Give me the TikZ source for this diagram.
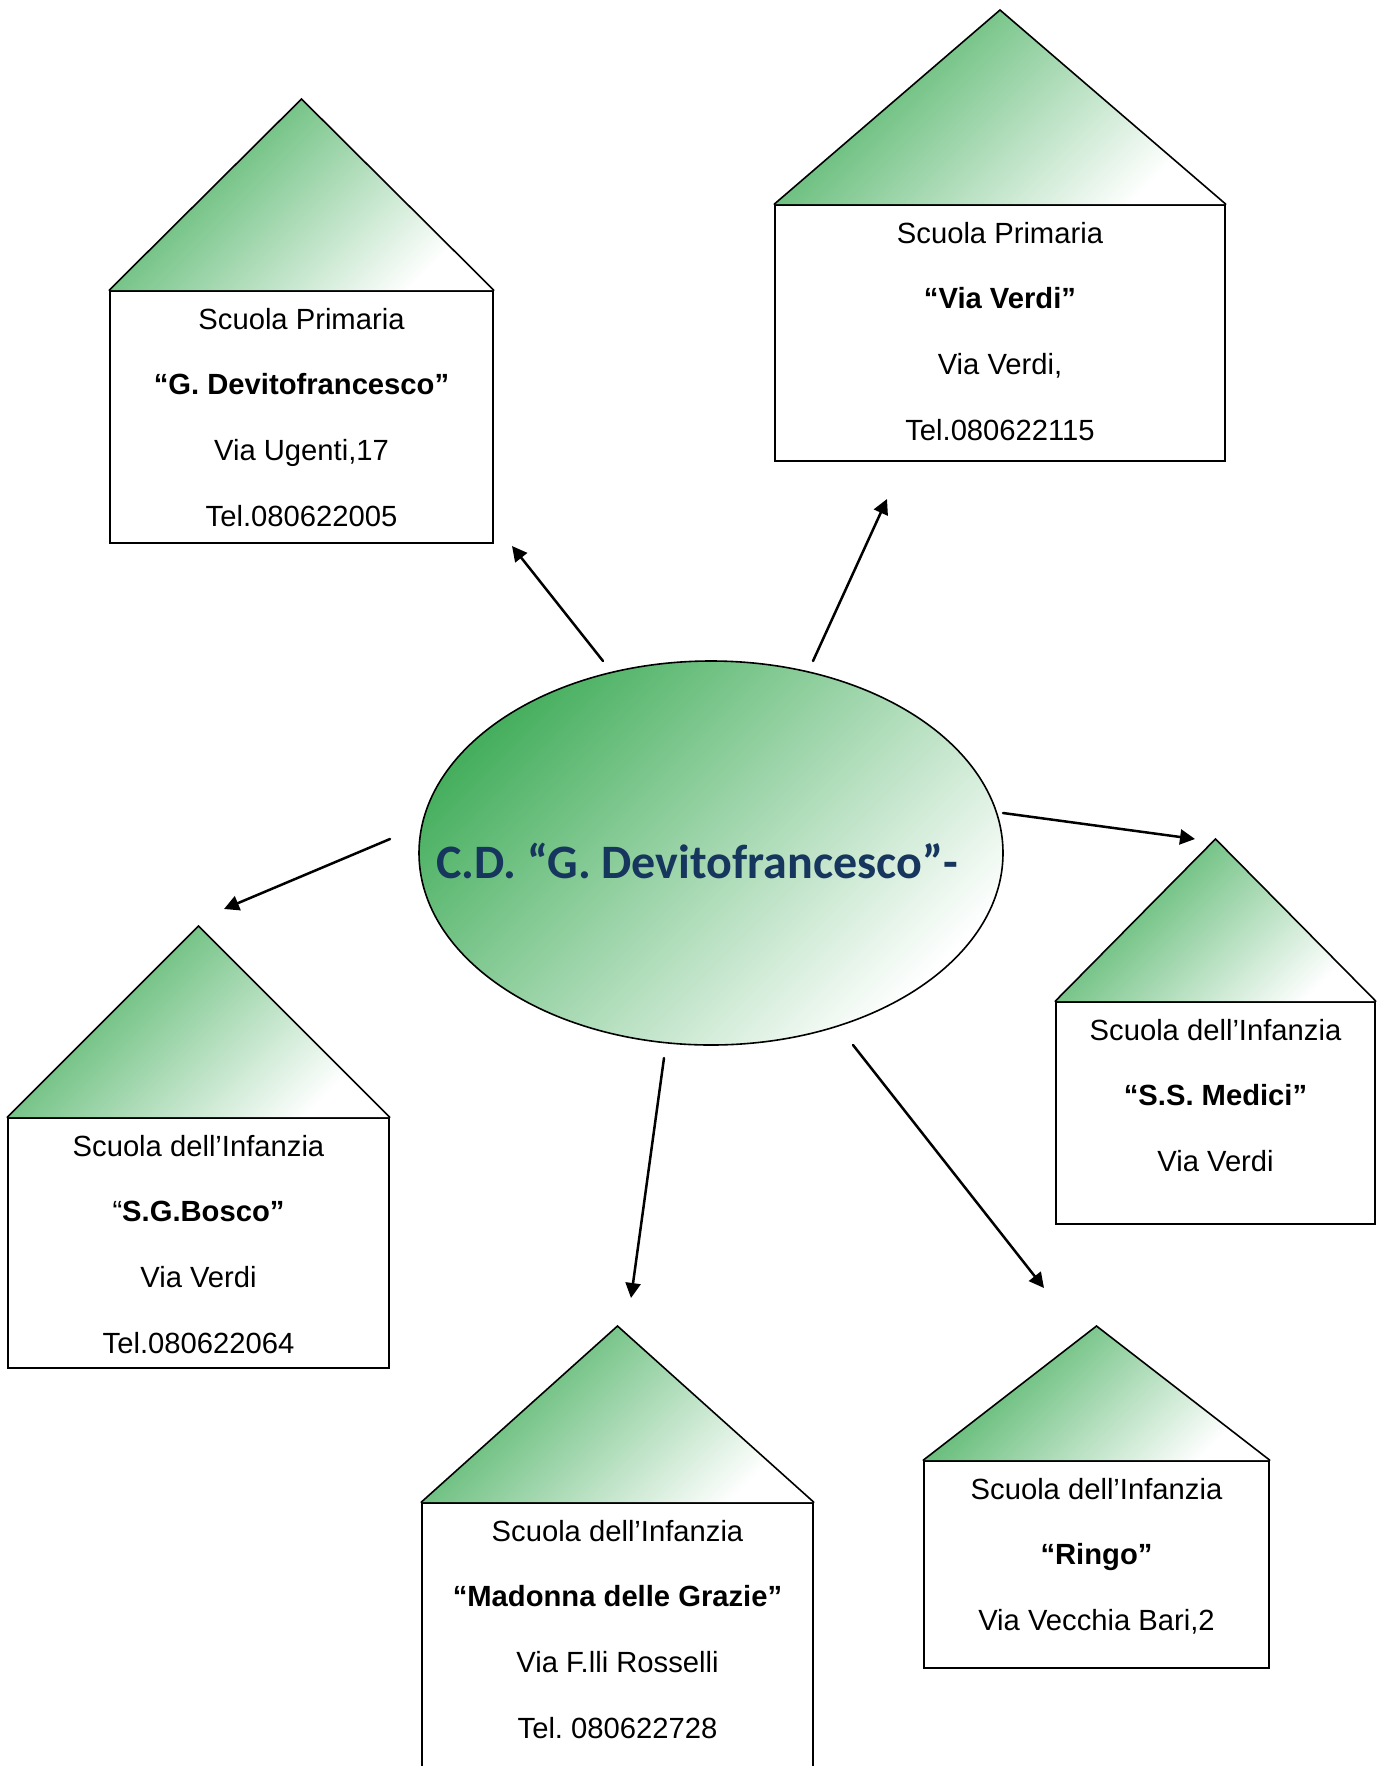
\documentclass[tikz,border=0pt]{standalone}
\usepackage{fontspec}
\setmainfont{Liberation Sans}
\newfontfamily\hubfont{Carlito}
\usetikzlibrary{shapes.geometric,arrows.meta,fit}
\frenchspacing

\definecolor{roofgreen}{RGB}{70,175,94}
\definecolor{titleblue}{RGB}{23,54,93}

\tikzset{
    housebox/.style={draw, line width=0.8pt, inner sep=0pt},
    roof/.style={top color=roofgreen, bottom color=white, shading angle=45},
    roofline/.style={draw, line width=0.8pt, line join=miter},
    addrline/.style={anchor=base, inner sep=0pt, font=\fontsize{14.6}{17}\selectfont},
    hub/.style={ellipse, draw, line width=0.8pt, inner sep=0pt,
        minimum width=292pt, minimum height=192pt,
        top color=roofgreen, bottom color=white, shading angle=45},
    hubtitle/.style={anchor=base, inner sep=0pt, text=titleblue,
        font=\hubfont\bfseries\fontsize{24}{28}\selectfont},
    link/.style={-{Triangle[length=7.5pt,width=7.5pt]}, line width=1.25pt},
}

% ---------- macro: one school = box + pitched roof + address lines ----------
% #1 = name, #2 = left x, #3 = right x, #4 = eaves y, #5 = ridge y, #6 = floor y
% #7 = text lines (one baseline every 65.7 units, first 38 below the eaves)
\newcommand{\schoolhouse}[7]{%
    \coordinate (#1-ridge) at ({(#2+#3)/2},#5);
    \node[housebox, fit={(#2,#4) (#3,#6)}] (#1) {};
    \shade[roof] (#1.north west) -- (#1-ridge) -- (#1.north east) -- cycle;
    \draw[roofline] (#1.north west) -- (#1-ridge) -- (#1.north east);
    \foreach \txt [count=\i from 0] in {#7}
        \node[addrline] (#1-\i) at ({(#2+#3)/2},{#4+38+65.7*\i}) {\txt};
}

\begin{document}
\begin{tikzpicture}[x=0.5pt, y=-0.5pt, line cap=round]

\useasboundingbox (0,0) rectangle (1386,1766);
\clip (0,0) rectangle (1386,1766);

% central circle
\node[hub] (cd) at (711,853) {};
\node[hubtitle] (cd-title) at (697,878) {C.D. “G. Devitofrancesco”-};

% the six schools
\schoolhouse{devito}{110}{493}{291}{99}{543}{Scuola Primaria,
    \textbf{“G. Devitofrancesco”}, {Via Ugenti,17}, Tel.080622005}
\schoolhouse{verdi}{775}{1225}{205}{10}{461}{Scuola Primaria,
    \textbf{“Via Verdi”}, {Via Verdi,}, Tel.080622115}
\schoolhouse{medici}{1056}{1375}{1002}{839}{1224}{Scuola dell’Infanzia,
    \textbf{“S.S. Medici”}, Via Verdi}
\schoolhouse{bosco}{8}{389}{1118}{926}{1368}{Scuola dell’Infanzia,
    “\textbf{S.G.Bosco”}, Via Verdi, Tel.080622064}
\schoolhouse{grazie}{422}{813}{1503}{1326}{1800}{Scuola dell’Infanzia,
    \textbf{“Madonna delle Grazie”}, Via F.lli Rosselli, Tel. 080622728}
\schoolhouse{ringo}{924}{1269}{1461}{1326}{1668}{Scuola dell’Infanzia,
    \textbf{“Ringo”}, {Via Vecchia Bari,2}}

% arrow ends
\coordinate (devito-from) at (603,661);   \coordinate (devito-to) at (512,546);
\coordinate (verdi-from)  at (813,661);   \coordinate (verdi-to)  at (887,499);
\coordinate (bosco-from)  at (390,839);   \coordinate (bosco-to)  at (224,909);
\coordinate (medici-from) at (1003,813);  \coordinate (medici-to) at (1195,839);
\coordinate (grazie-from) at (664,1058);  \coordinate (grazie-to) at (631,1298);
\coordinate (ringo-from)  at (853,1045);  \coordinate (ringo-to)  at (1044,1288);

\foreach \s in {devito,verdi,bosco,medici,grazie,ringo}
    \draw[link] (\s-from) -- (\s-to);

\end{tikzpicture}
\end{document}
